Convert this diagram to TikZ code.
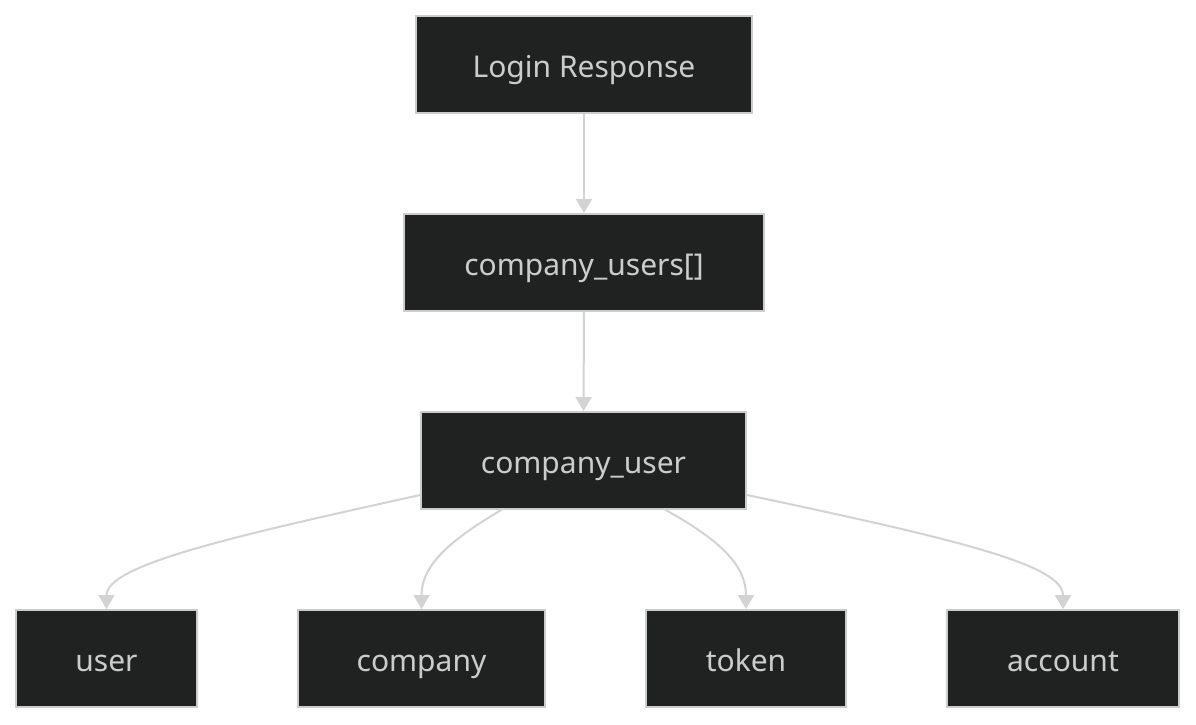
\documentclass[tikz,border=0pt]{standalone}
\usepackage{fontspec}
\setmainfont{Noto Sans}
\usetikzlibrary{arrows.meta}
\definecolor{nodefill}{HTML}{202222}
\definecolor{nodeline}{HTML}{CCCCCC}
\definecolor{nodetext}{HTML}{CCCCCC}
\definecolor{edgecol}{HTML}{D3D3D3}
\begin{document}
\begin{tikzpicture}[x=1pt,y=-1pt,
  box/.style={draw=nodeline, line width=2pt, fill=nodefill, text=nodetext,
    inner sep=0pt, text height=31pt, text depth=5pt, minimum height=97pt,
    font=\fontsize{30}{34}\selectfont},
  edge/.style={draw=edgecol, line width=2pt, -{Triangle[length=14pt,width=16pt]}}]
\useasboundingbox[fill=white] (0,0) rectangle (1196,724);
\node[box, minimum width=336pt] (lr) at (584,64.5) {Login Response};
\node[box, minimum width=360pt] (cus) at (584,262.5) {company\_users[]};
\node[box, minimum width=325pt] (cu) at (583.5,460.5) {company\_user};
\node[box, minimum width=181pt] (user) at (106.5,658.5) {user};
\node[box, minimum width=247pt] (comp) at (421.5,658.5) {company};
\node[box, minimum width=200pt] (tok) at (746,658.5) {token};
\node[box, minimum width=232pt] (acc) at (1063,658.5) {account};
\draw[edge] (lr.south) -- (cus.north);
\draw[edge] (cus.south) -- (cu.north);
\draw[edge] (cu.west |- 0,495) .. controls (230,537) and (106.5,565) .. (user.north);
\draw[edge] (503,509) .. controls (450,540) and (421.5,565) .. (comp.north);
\draw[edge] (664,509) .. controls (720,540) and (746,565) .. (tok.north);
\draw[edge] (cu.east |- 0,495) .. controls (960,540) and (1063,565) .. (acc.north);
\end{tikzpicture}
\end{document}
